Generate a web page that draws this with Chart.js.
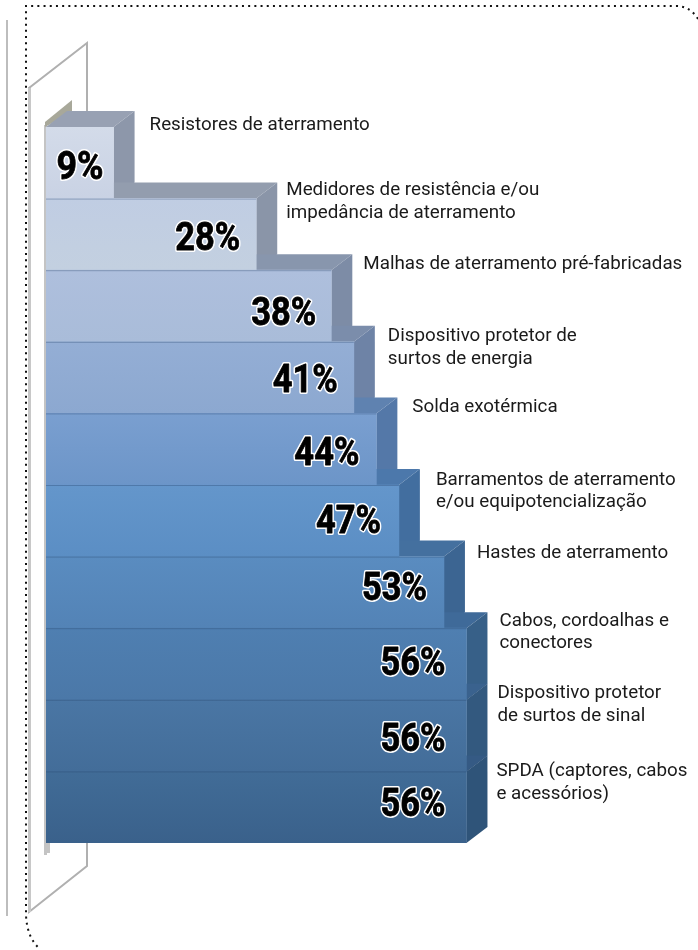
<!DOCTYPE html>
<html>
<head>
<meta charset="utf-8">
<script src="https://cdn.jsdelivr.net/npm/chart.js@4"></script>
<style>
body { margin: 0; background: #fff; }
</style>
</head>
<body>
<canvas id="chart" width="698" height="950"></canvas>
<script>
let categories = [
    ["Resistores de aterramento"],
    ["Medidores de resistência e/ou", "impedância de aterramento"],
    ["Malhas de aterramento pré-fabricadas"],
    ["Dispositivo protetor de", "surtos de energia"],
    ["Solda exotérmica"],
    ["Barramentos de aterramento", "e/ou equipotencialização"],
    ["Hastes de aterramento"],
    ["Cabos, cordoalhas e", "conectores"],
    ["Dispositivo protetor", "de surtos de sinal"],
    ["SPDA (captores, cabos", "e acessórios)"]
];
let values = [9, 28, 38, 41, 44, 47, 53, 56, 56, 56];

// colours per row
let frontTop = ["#d3dbe9", "#c0cde3", "#aebfdd", "#94aed5", "#7a9fd0", "#6496cb", "#5a8cc0", "#4f7fb1", "#4a76a4", "#416c97"];
let frontBottom = ["#c9d2e4", "#c3d0e0", "#a9bcd9", "#8ca8d0", "#6c95c8", "#5b8ec4", "#5383b6", "#4b78a8", "#436d99", "#3a618b"];
let topColors = ["#98a1b3", "#939dae", "#8896ad", "#7b8dab", "#5f82b0", "#4c78ab", "#44709f", "#3f6a99", "#3a628e", "#355a84"];
let sideColors = ["#8d97aa", "#8a95a8", "#7d8ca6", "#6e83a6", "#5478a8", "#426e9f", "#3c6592", "#376088", "#33597f", "#2f5479"];

// hand placement of the texts, relative to each bar
let labelDx = [15, 9, 11, 13, 15, 16, 12, 12, 10, 9];
let labelDy = [-2, -8, -6, -5, -6, -5, -3, -7, -6, 0];
let pctDx = [-10, -16, -15, -16, -17, -18, -17, -21, -21, -21];
let pctDy = [6, 6, 9, 5, 6, 2, -2, 1, 6, -1];

let depthX = 21;
let depthY = 16;

let wallPlugin = {
    id: 'wall',
    beforeDatasetsDraw(chart) {
        let ctx = chart.ctx;
        ctx.save();
        // far left rule
        ctx.strokeStyle = '#bdbdbd';
        ctx.lineWidth = 2;
        ctx.beginPath();
        ctx.moveTo(7, 20);
        ctx.lineTo(7, 916);
        ctx.stroke();
        // wall outline
        ctx.strokeStyle = '#b0b0b0';
        ctx.beginPath();
        ctx.moveTo(87, 111);
        ctx.lineTo(87, 43);
        ctx.lineTo(29, 88);
        ctx.lineTo(29, 912);
        ctx.lineTo(87, 866);
        ctx.lineTo(87, 843);
        ctx.stroke();
        ctx.fillStyle = '#c8c8c8';
        ctx.fillRect(28, 88, 3, 824);
        // shadow on the wall
        ctx.fillStyle = '#c4c4c4';
        ctx.fillRect(44, 125, 3, 730);
        ctx.fillRect(44, 843, 6, 10);
        ctx.fillStyle = '#a8a89a';
        ctx.beginPath();
        ctx.moveTo(45, 127);
        ctx.lineTo(45, 122);
        ctx.lineTo(72, 100);
        ctx.lineTo(72, 112);
        ctx.closePath();
        ctx.fill();
        // dotted frame
        ctx.strokeStyle = '#111';
        ctx.lineWidth = 2;
        ctx.setLineDash([2, 4.2]);
        ctx.beginPath();
        ctx.moveTo(698, 19);
        ctx.quadraticCurveTo(690, 6, 676, 6);
        ctx.lineTo(26, 6);
        ctx.lineTo(26, 915);
        ctx.quadraticCurveTo(27, 938, 40, 949);
        ctx.stroke();
        ctx.setLineDash([]);
        // 3D faces, from the bars the library placed
        let meta = chart.getDatasetMeta(0);
        meta.data.forEach(function(bar, i) {
            let top = bar.y - bar.height / 2;
            let bottom = bar.y + bar.height / 2;
            ctx.fillStyle = topColors[i];
            ctx.beginPath();
            ctx.moveTo(bar.base, top);
            ctx.lineTo(bar.base + depthX, top - depthY);
            ctx.lineTo(bar.x + depthX, top - depthY);
            ctx.lineTo(bar.x, top);
            ctx.closePath();
            ctx.fill();
            ctx.fillStyle = sideColors[i];
            ctx.beginPath();
            ctx.moveTo(bar.x, top);
            ctx.lineTo(bar.x + depthX, top - depthY);
            ctx.lineTo(bar.x + depthX, bottom - depthY);
            ctx.lineTo(bar.x, bottom);
            ctx.closePath();
            ctx.fill();
        });
        ctx.restore();
    },
    afterDatasetsDraw(chart) {
        let ctx = chart.ctx;
        ctx.save();
        let meta = chart.getDatasetMeta(0);
        meta.data.forEach(function(bar, i) {
            let top = bar.y - bar.height / 2;
            if (i > 0) {
                ctx.strokeStyle = 'rgba(40,70,110,0.35)';
                ctx.lineWidth = 1;
                ctx.beginPath();
                ctx.moveTo(bar.base, top + 0.5);
                ctx.lineTo(bar.x, top + 0.5);
                ctx.stroke();
            }
            // category text
            ctx.fillStyle = '#1a1a1a';
            ctx.font = '18.8px Roboto';
            ctx.textAlign = 'left';
            ctx.textBaseline = 'middle';
            categories[i].forEach(function(line, k) {
                ctx.fillText(line, bar.x + depthX + labelDx[i], top + labelDy[i] + k * 22.5);
            });
            // percent value, squeezed to look condensed
            let txt = values[i] + '%';
            let squeeze = txt.length * 18 + 11;
            let px = bar.x + pctDx[i];
            let py = bar.y + pctDy[i];
            ctx.font = '700 39px Roboto';
            ctx.textAlign = 'right';
            ctx.lineJoin = 'round';
            ctx.lineWidth = 4;
            ctx.strokeStyle = '#fff';
            ctx.strokeText(txt, px, py, squeeze);
            ctx.lineWidth = 0.8;
            ctx.strokeStyle = '#000';
            ctx.strokeText(txt, px, py, squeeze);
            ctx.fillStyle = '#000';
            ctx.fillText(txt, px, py, squeeze);
        });
        ctx.restore();
    }
};

let chartCanva = document.getElementById("chart");
let barChart = new Chart(chartCanva, {
    type: 'bar',
    data: {
        labels: categories,
        datasets: [
            {
                data: values,
                barPercentage: 1,
                categoryPercentage: 1,
                backgroundColor: function(c) {
                    let area = c.chart.chartArea;
                    if (!area) {
                        return frontTop[c.dataIndex];
                    }
                    let step = (area.bottom - area.top) / values.length;
                    let y0 = area.top + step * c.dataIndex;
                    let g = c.chart.ctx.createLinearGradient(0, y0, 0, y0 + step);
                    g.addColorStop(0, frontTop[c.dataIndex]);
                    g.addColorStop(1, frontBottom[c.dataIndex]);
                    return g;
                }
            }]
    },
    options: {
        indexAxis: 'y',
        responsive: false,
        animation: false,
        layout: {
            padding: { left: 46, right: 200, top: 127, bottom: 107 }
        },
        scales: {
            x: { display: false, min: 0, max: 60.2 },
            y: { display: false }
        },
        plugins: {
            legend: { display: false },
            tooltip: { enabled: false }
        }
    },
    plugins: [wallPlugin]
});
</script>
</body>
</html>
